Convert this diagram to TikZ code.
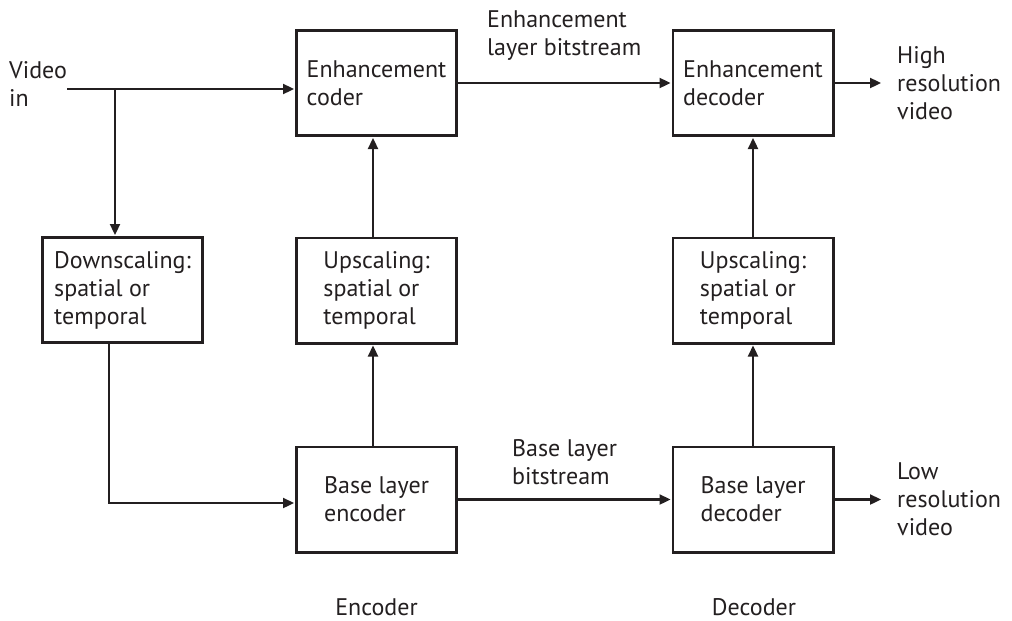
\documentclass[tikz,border=0pt]{standalone}
\usepackage{fontspec}
\setmainfont{PT Sans}
\usetikzlibrary{arrows.meta}
\definecolor{ink}{RGB}{35,31,32}
\begin{document}
\begin{tikzpicture}[x=1pt,y=-1pt,
  font=\fontsize{24}{28}\selectfont,
  box/.style={draw=ink, line width=2.8pt, minimum width=160.2pt, minimum height=105.2pt, inner sep=0pt, align=left, text=ink},
  lbl/.style={inner sep=0pt, align=left, text=ink},
  arr/.style={draw=ink, line width=2.3pt, shorten >=1pt, -{Triangle[length=11pt,width=10pt]}}]
\useasboundingbox (0,0) rectangle (1012,621);
% blocks
\node[box] (enc) at (376.5,83) {Enhancement\\coder};
\node[box] (dec) at (753,83) {Enhancement\\decoder};
\node[box] (down) at (122.5,290) {Downscaling:\\spatial or\\temporal};
\node[box] (upe) at (376.5,290.5) {Upscaling:\\spatial or\\temporal};
\node[box] (upd) at (753,290.5) {Upscaling:\\spatial or\\temporal};
\node[box] (ble) at (376.5,499.5) {Base layer\\encoder};
\node[box] (bld) at (753,499.5) {Base layer\\decoder};
% labels
\node[lbl, anchor=north west] (vin) at (9,61) {Video\\in};
\node[lbl, anchor=north west] (elb) at (487,10) {Enhancement\\layer bitstream};
\node[lbl, anchor=north west] (blb) at (512,439) {Base layer\\bitstream};
\node[lbl, anchor=west] (hi) at (897,83) {High\\resolution\\video};
\node[lbl, anchor=west] (lo) at (897,499.5) {Low\\resolution\\video};
\node[lbl, anchor=base] (encl) at (376.5,615) {Encoder};
\node[lbl, anchor=base] (decl) at (754,615) {Decoder};
% connectors
\coordinate (vy) at (0,89);
\coordinate (br) at (115,89);
\coordinate (dc) at (109,503);
\coordinate (ux) at (373,0);
\draw[arr] (vin.east |- vy) -- (vy -| enc.west);
\draw[arr] (br) -- (br |- down.north);
\draw[arr] (down.south -| dc) -- (dc) -- (dc -| ble.west);
\draw[arr] (ble.north -| ux) -- (upe.south -| ux);
\draw[arr] (upe.north -| ux) -- (enc.south -| ux);
\draw[arr] (bld.north) -- (upd.south);
\draw[arr] (upd.north) -- (dec.south);
\draw[arr] (enc.east) -- (dec.west);
\draw[arr] (ble.east) -- (bld.west);
\draw[arr] (dec.east) -- ([xshift=-15pt]hi.west);
\draw[arr] (bld.east) -- ([xshift=-15pt]lo.west);
\end{tikzpicture}
\end{document}
